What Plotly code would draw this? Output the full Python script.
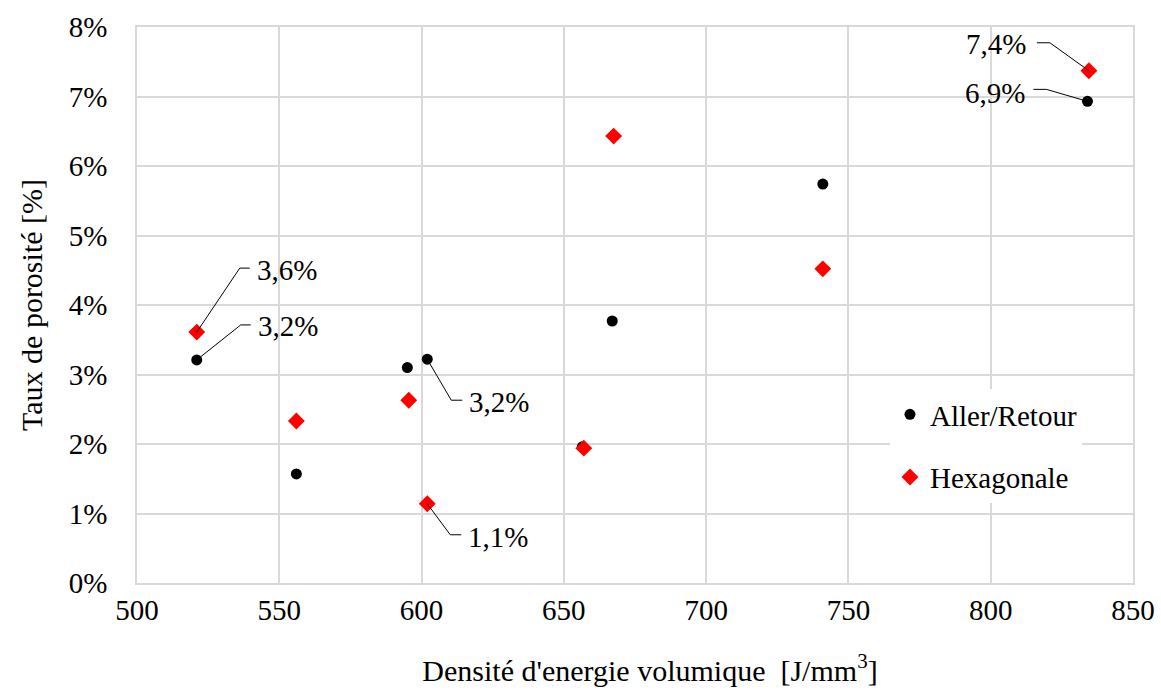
import plotly.graph_objects as go

# Densité d'energie volumique [J/mm3] et taux de porosité (fraction)
energie_ar = [521, 556, 595, 602, 656.5, 667, 741, 834]
poro_ar = [0.0321, 0.0157, 0.0310, 0.0322, 0.0196, 0.0377, 0.0574, 0.0693]

energie_hex = [521, 556, 595.5, 602, 657, 667.5, 741, 834.5]
poro_hex = [0.0361, 0.0233, 0.0263, 0.0114, 0.0194, 0.0643, 0.0452, 0.0737]

x_ticks = [500, 550, 600, 650, 700, 750, 800, 850]

FONT = "Liberation Serif, Times New Roman, serif"
FS = 29
FT = 30

fig = go.Figure()
fig.add_trace(go.Scatter(x=energie_ar, y=poro_ar, mode="markers", name="Aller/Retour",
                         legendgroup="a",
                         marker=dict(symbol="circle", size=11, color="black")))
fig.add_trace(go.Scatter(x=energie_hex, y=poro_hex, mode="markers", name="Hexagonale",
                         legendgroup="b",
                         marker=dict(symbol="diamond", size=13, color="#ff0000")))

# étiquettes: (série, indice, coude dx, coude dy, fin dx, texte dx, texte dy, ancre)
labels = [
    ("hex", 0, 43, 64, 53, 58, 62, "left"),
    ("ar", 0, 44, 35, 54, 59, 34, "left"),
    ("ar", 3, 24, -41, 35, 40, -43, "left"),
    ("hex", 3, 23, -31, 34, 39, -33, "left"),
    ("hex", 7, -39, 28, -52, -61, 27, "right"),
    ("ar", 7, -41, 12, -54, -60, 8, "right"),
]
for serie, i, ex, ey, fx, tx, ty, anchor in labels:
    xs, ys = (energie_ar, poro_ar) if serie == "ar" else (energie_hex, poro_hex)
    x, y = xs[i], ys[i]
    fig.add_shape(type="path", xref="x", yref="y", xsizemode="pixel", ysizemode="pixel",
                  xanchor=x, yanchor=y,
                  path=f"M 0 0 L {ex} {ey} L {fx} {ey}",
                  line=dict(color="black", width=1))
    txt = f"{y * 100:.1f}%".replace(".", ",")
    fig.add_annotation(x=x, y=y, xref="x", yref="y", text=txt, showarrow=False,
                       xanchor=anchor, yanchor="middle", xshift=tx, yshift=ty,
                       font=dict(family=FONT, size=FS, color="black"))

fig.update_layout(
    width=1161, height=693,
    margin=dict(l=137, r=28, t=27, b=110),
    paper_bgcolor="white", plot_bgcolor="white",
    font=dict(family=FONT, size=FS, color="black"),
    showlegend=True,
    legend=dict(x=0.756, y=0.349, xanchor="left", yanchor="top",
                bgcolor="white", font=dict(family=FONT, size=FS),
                traceorder="grouped", tracegroupgap=22, itemwidth=30),
    xaxis=dict(range=[500, 850], tickvals=x_ticks, showgrid=True, gridcolor="#d9d9d9",
               gridwidth=1.5, zeroline=False, showline=True, linecolor="#d9d9d9",
               linewidth=1.5, mirror=True, ticks="", ticklen=0, automargin=False,
               tickfont=dict(family=FONT, size=FS),
               title=dict(text="&nbsp;&nbsp;&nbsp;&nbsp;Densité d'energie volumique  [J/mm<sup>3</sup>]",
                          standoff=35, font=dict(family=FONT, size=FT, color="black"))),
    yaxis=dict(range=[0, 0.08], dtick=0.01, tickformat=".0%", showgrid=True,
               gridcolor="#d9d9d9", gridwidth=1.5, zeroline=False, showline=True,
               linecolor="#d9d9d9", linewidth=1.5, mirror=True, ticks="",
               ticklabelstandoff=22, automargin=False,
               tickfont=dict(family=FONT, size=FS),
               title=dict(text="Taux de porosité [%]", standoff=17,
                          font=dict(family=FONT, size=FT, color="black"))),
)

fig.write_html("out.html", config={"displayModeBar": False},
               post_script="document.body.style.margin='0px';")
